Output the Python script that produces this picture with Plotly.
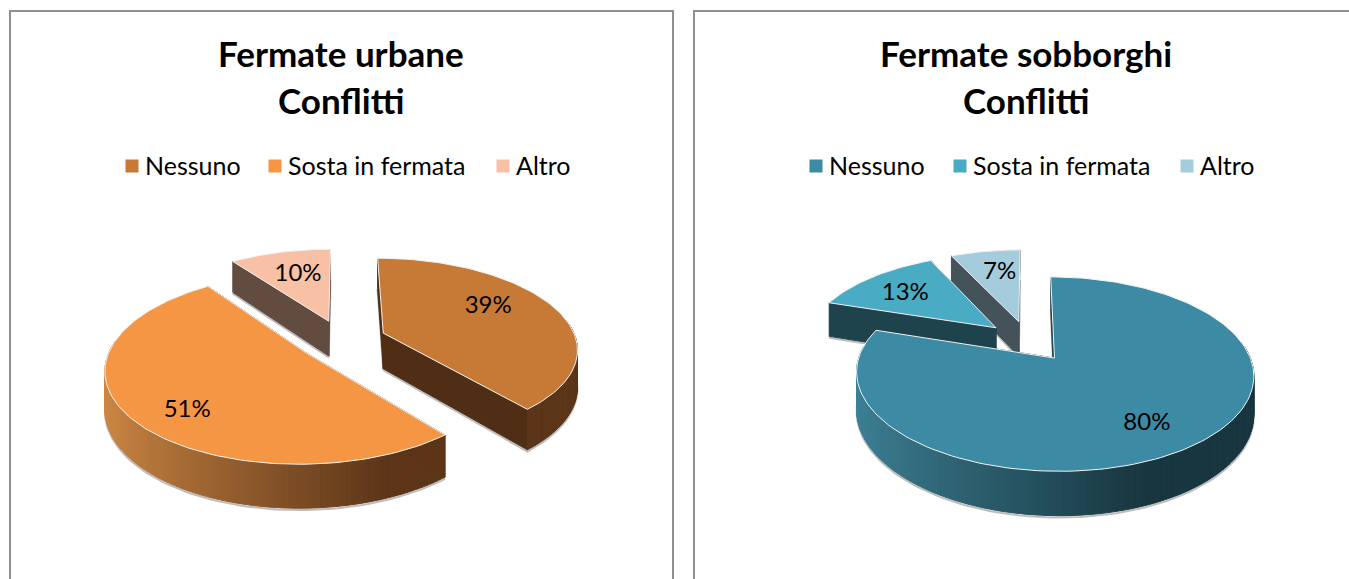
import math
import plotly.graph_objects as go

# ---------- data ----------
categories = ["Nessuno", "Sosta in fermata", "Altro"]
urban_values = [39, 51, 10]
suburb_values = [80, 13, 7]
urban_title = ["Fermate urbane", "Conflitti"]
suburb_title = ["Fermate sobborghi", "Conflitti"]

# ---------- styles ----------
FONT = "Lato"
urban_top = ["#c77a36", "#f59645", "#f8c1a6"]
urban_wall = ["#4f2e15", "#5f3719", "#624c40"]
urban_light = (208, 138, 69)
urban_dark = (92, 53, 24)
suburb_top = ["#3c8aa4", "#4aabc5", "#a5ccdc"]
suburb_wall = ["#1f434d", "#1f434d", "#445259"]
suburb_light = (61, 130, 151)
suburb_dark = (24, 54, 63)
urban_nudge = [(2, -9), (-17, 22), (0, -3)]
suburb_nudge = [(15, 16), (-14, -2), (2, -4)]

RY, PERSP, DEPTH, PULL = 89, 0.16, 36, 0.23
BORDER = "#8f8f8f"

fig = go.Figure()


def hexrgb(t):
    return "rgb(%d,%d,%d)" % t


def poly(xs, ys, fill, line=None, width=1, name=None):
    fig.add_trace(go.Scatter(
        x=xs, y=ys, mode="lines", fill="toself", fillcolor=fill,
        line=dict(color=line or fill, width=width),
        hoverinfo="skip" if name is None else "text",
        text=name, showlegend=False))


def pie3d(values, cx, cy, rx, tops, walls, light, dark, nudges):
    def project(gx, gy, z=0):
        s = 1 / (1 - PERSP * gy)
        return cx + rx * gx * s, cy + RY * gy * s + z * s

    total = sum(values)
    a = 0.0
    slices = []
    for i, v in enumerate(values):
        sweep = 2 * math.pi * v / total
        slices.append((i, v, a, a + sweep))
        a += sweep
    slices.sort(key=lambda q: -math.cos((q[2] + q[3]) / 2))
    labels = []
    for i, v, a0, a1 in slices:
        mid = (a0 + a1) / 2
        ox, oy = PULL * math.sin(mid), -PULL * math.cos(mid)
        n = max(3, int((a1 - a0) / math.radians(1.5)))
        angs = [a0 + (a1 - a0) * k / n for k in range(n + 1)]
        rim = [(ox + math.sin(t), oy - math.cos(t)) for t in angs]

        # soft shadow under the slice
        pts = [project(ox, oy, DEPTH + 1.5)] + [project(gx, gy, DEPTH + 1.5) for gx, gy in rim]
        fig.add_trace(go.Scatter(
            x=[p[0] for p in pts] + [pts[0][0]], y=[p[1] for p in pts] + [pts[0][1]],
            mode="lines", line=dict(color="#bdbdbd", width=2),
            hoverinfo="skip", showlegend=False))

        # radial walls
        for end in (rim[0], rim[-1]):
            q = [project(ox, oy), project(*end), project(*end, DEPTH), project(ox, oy, DEPTH)]
            poly([p[0] for p in q] + [q[0][0]], [p[1] for p in q] + [q[0][1]], walls[i])

        # outer rim, shaded across the pie
        quads = []
        for k in range(n):
            t = (angs[k] + angs[k + 1]) / 2
            if math.cos(t) > 0.12:
                continue
            quads.append((-math.cos(t), k))
        for _, k in sorted(quads):
            g0, g1 = rim[k], rim[k + 1]
            f = min(1, max(0, ((g0[0] - ox) + 1) / 1.38))
            col = tuple(round(light[c] + (dark[c] - light[c]) * f) for c in range(3))
            q = [project(*g0), project(*g1), project(*g1, DEPTH), project(*g0, DEPTH)]
            poly([p[0] for p in q] + [q[0][0]], [p[1] for p in q] + [q[0][1]], hexrgb(col))

        # top face
        pts = [project(ox, oy)] + [project(gx, gy) for gx, gy in rim]
        poly([p[0] for p in pts] + [pts[0][0]], [p[1] for p in pts] + [pts[0][1]],
             tops[i], line="#f2f2f2", width=1,
             name=f"{categories[i]}: {v}%")

        # label position
        lx, ly = project(ox + 0.6 * math.sin(mid), oy - 0.6 * math.cos(mid))
        labels.append((lx + nudges[i][0], ly + nudges[i][1], f"{v}%"))
    fig.add_trace(go.Scatter(
        x=[l[0] for l in labels], y=[l[1] for l in labels], text=[l[2] for l in labels],
        mode="text", textposition="middle center",
        textfont=dict(family=FONT, size=24, color="#000000"),
        hoverinfo="skip", showlegend=False))


def legend_row(xs, y, cols):
    for name, x, col in zip(categories, xs, cols):
        fig.add_trace(go.Scatter(
            x=[x], y=[y], mode="markers", hoverinfo="skip", showlegend=False,
            marker=dict(symbol="square", size=13, color=col, line=dict(width=0))))
        fig.add_trace(go.Scatter(
            x=[x + 13], y=[y + 3], text=[name], mode="text", textposition="middle right",
            textfont=dict(family=FONT, size=25, color="#000000"),
            hoverinfo="skip", showlegend=False))


pie3d(urban_values, 342, 340, 193, urban_top, urban_wall, urban_light, urban_dark, urban_nudge)
pie3d(suburb_values, 1028, 341, 190, suburb_top, suburb_wall, suburb_light, suburb_dark, suburb_nudge)
legend_row([132, 275, 503], 166, urban_top)
legend_row([816, 960, 1187], 166, suburb_top)


def title(lines, x):
    for line, y in zip(lines, (53, 100)):
        fig.add_annotation(x=x, y=y, text=f"<b>{line}</b>", showarrow=False,
                           xanchor="center", yanchor="middle",
                           font=dict(family=FONT, size=35, color="#000000"))


title(urban_title, 341)
title(suburb_title, 1026)

frame = dict(type="path", line=dict(color=BORDER, width=2), layer="below")
fig.add_shape(path="M 10 585 L 10 11 L 673 11 L 673 585", **frame)
fig.add_shape(path="M 694 585 L 694 11 L 1360 11", **frame)

fig.update_xaxes(range=[0, 1349], visible=False, fixedrange=True)
fig.update_yaxes(range=[579, 0], visible=False, fixedrange=True)
fig.update_layout(width=1349, height=579, margin=dict(l=0, r=0, t=0, b=0),
                  paper_bgcolor="white", plot_bgcolor="white", showlegend=False)
fig.write_html("out.html", config=dict(displayModeBar=False),
               post_script="document.body.style.margin='0';document.documentElement.style.overflow='hidden';")
